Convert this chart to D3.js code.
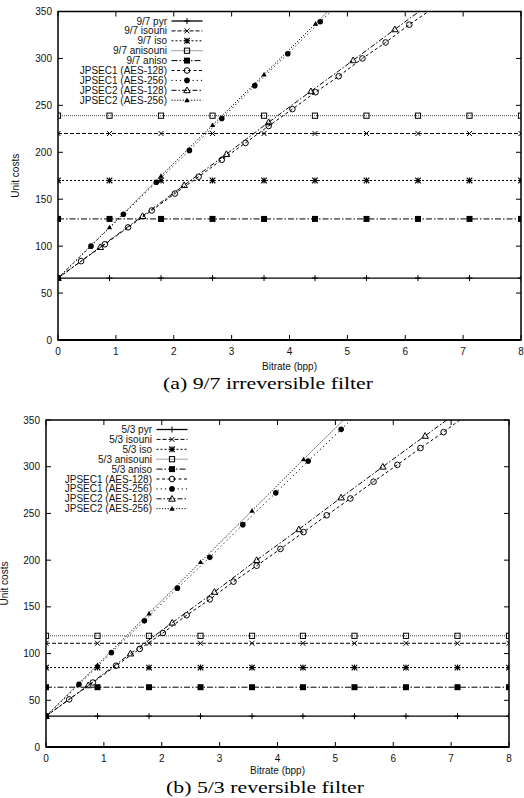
<!DOCTYPE html>
<html><head><meta charset="utf-8">
<script src="https://cdn.jsdelivr.net/npm/d3@7"></script>
<style>body{margin:0;background:#fff}svg{display:block}</style>
</head><body><svg id="c" width="524" height="798"></svg>
<script>
// ---------- data ----------
const bitrateTicks = [0,1,2,3,4,5,6,7,8];
const costTicks = [0,50,100,150,200,250,300,350];

const flatX  = [0,0.89,1.78,2.67,3.56,4.44,5.33,6.22,7.11,8];
const jp1x128 = [0,0.40,0.81,1.21,1.62,2.02,2.43,2.83,3.24,3.64,4.05,4.45,4.85,5.26,5.66,6.07,6.47,6.87,7.28];
const jp2x128 = [0,0.73,1.46,2.18,2.91,3.64,4.37,5.10,5.82,6.55,7.28];
const jp1x256 = [0,0.57,1.13,1.70,2.27,2.83,3.40,3.97,4.53,5.10,5.67];
const jp2x256 = [0,0.89,1.78,2.67,3.56,4.45,5.34];

const labels97 = ["9/7 pyr","9/7 isouni","9/7 iso","9/7 anisouni","9/7 aniso","JPSEC1 (AES-128)","JPSEC1 (AES-256)","JPSEC2 (AES-128)","JPSEC2 (AES-256)"];
const labels53 = ["5/3 pyr","5/3 isouni","5/3 iso","5/3 anisouni","5/3 aniso","JPSEC1 (AES-128)","JPSEC1 (AES-256)","JPSEC2 (AES-128)","JPSEC2 (AES-256)"];

// (a) 9/7 irreversible filter
const pyr97      = [66,66,66,66,66,66,66,66,66,66];
const isouni97   = [220,220,220,220,220,220,220,220,220,220];
const iso97      = [170,170,170,170,170,170,170,170,170,170];
const anisouni97 = [239,239,239,239,239,239,239,239,239,239];
const aniso97    = [129,129,129,129,129,129,129,129,129,129];
const jp1_128_97 = [66,84,102,120,138,156,174,192,210,228,246,264,281,300,317,336,353,371,389];
const jp1_256_97 = [66,100,134,168,202,236,271,305,339,373,407];
const jp2_128_97 = [66,99,132,165,198,232,265,298,331,364,397];
const jp2_256_97 = [66,120,175,229,283,337,392];

// (b) 5/3 reversible filter
const pyr53      = [33,33,33,33,33,33,33,33,33,33];
const isouni53   = [111,111,111,111,111,111,111,111,111,111];
const iso53      = [85,85,85,85,85,85,85,85,85,85];
const anisouni53 = [119,119,119,119,119,119,119,119,119,119];
const aniso53    = [64,64,64,64,64,64,64,64,64,64];
const jp1_128_53 = [33,51,69,87,105,122,141,158,177,194,212,230,248,266,284,302,320,337,356];
const jp1_256_53 = [33,67,101,135,170,203,238,272,306,340,374];
const jp2_128_53 = [33,66,100,133,166,200,233,267,300,333,366];
const jp2_256_53 = [33,88,143,198,253,308,362];

// ---------- styles ----------
const styles = [
  {dash:null,        marker:"plus",   width:1.3},
  {dash:"4,2",       marker:"cross",  width:1},
  {dash:"2,2",       marker:"star",   width:1},
  {dash:"1,1",       marker:"osq",    width:1, stroke:"#444"},
  {dash:"6,2,1.5,2", marker:"fsq",    width:1},
  {dash:"3,2.5",     marker:"ocirc",  width:1},
  {dash:"1.2,3",     marker:"fcirc",  width:1},
  {dash:"5,2,1.5,2", marker:"otri",   width:1},
  {dash:"1.2,1.6",   marker:"ftri",   width:1}
];

const charts = [
  {left:58, right:521, top:11.5, bottom:340, labels:labels97,
   xs:[flatX,flatX,flatX,flatX,flatX,jp1x128,jp1x256,jp2x128,jp2x256],
   ys:[pyr97,isouni97,iso97,anisouni97,aniso97,jp1_128_97,jp1_256_97,jp2_128_97,jp2_256_97],
   legX:167, legY:21, ylabX:15, xtickOff:15, xlabOff:30,
   caption:"(a)  9/7 irreversible filter", capX:268, capY:389, capW:210},
  {left:46, right:509, top:420, bottom:747, labels:labels53,
   xs:[flatX,flatX,flatX,flatX,flatX,jp1x128,jp1x256,jp2x128,jp2x256],
   ys:[pyr53,isouni53,iso53,anisouni53,aniso53,jp1_128_53,jp1_256_53,jp2_128_53,jp2_256_53],
   legX:152, legY:429.5, ylabX:4.5, xtickOff:14.5, xlabOff:27,
   caption:"(b)  5/3 reversible filter", capX:265, capY:793, capW:198}
];

const svg = d3.select("#c");
const FONT = "'Liberation Sans', Arial, Helvetica, sans-serif";

function drawMarker(g, type, x, y){
  if(type==="plus"){
    g.append("path").attr("d",`M${x-3},${y}H${x+3}M${x},${y-3}V${y+3}`).attr("stroke","#000").attr("stroke-width",1);
  } else if(type==="cross"){
    g.append("path").attr("d",`M${x-2.5},${y-2.5}L${x+2.5},${y+2.5}M${x-2.5},${y+2.5}L${x+2.5},${y-2.5}`).attr("stroke","#000").attr("stroke-width",1);
  } else if(type==="star"){
    g.append("path").attr("d",`M${x-2.8},${y-2.8}L${x+2.8},${y+2.8}M${x-2.8},${y+2.8}L${x+2.8},${y-2.8}M${x-3},${y}H${x+3}M${x},${y-3}V${y+3}`).attr("stroke","#000").attr("stroke-width",1.1);
  } else if(type==="osq"){
    g.append("rect").attr("x",x-2.6).attr("y",y-2.6).attr("width",5.2).attr("height",5.2).attr("fill","none").attr("stroke","#000").attr("stroke-width",1);
  } else if(type==="fsq"){
    g.append("rect").attr("x",x-3).attr("y",y-3).attr("width",6).attr("height",6).attr("fill","#000");
  } else if(type==="ocirc"){
    g.append("circle").attr("cx",x).attr("cy",y).attr("r",2.8).attr("fill","none").attr("stroke","#000").attr("stroke-width",1);
  } else if(type==="fcirc"){
    g.append("circle").attr("cx",x).attr("cy",y).attr("r",2.8).attr("fill","#000");
  } else if(type==="otri"){
    g.append("path").attr("d",`M${x},${y-3.3}L${x+3.3},${y+2.4}L${x-3.3},${y+2.4}Z`).attr("fill","none").attr("stroke","#000").attr("stroke-width",1);
  } else if(type==="ftri"){
    g.append("path").attr("d",`M${x},${y-2.6}L${x+2.6},${y+2}L${x-2.6},${y+2}Z`).attr("fill","#000");
  }
}

charts.forEach((c, ci) => {
  const x = d3.scaleLinear().domain([0,8]).range([c.left, c.right]);
  const y = d3.scaleLinear().domain([0,350]).range([c.bottom, c.top]);
  const g = svg.append("g");

  const clipId = "clip"+ci;
  svg.append("defs").append("clipPath").attr("id",clipId).append("rect")
    .attr("x",c.left).attr("y",c.top).attr("width",c.right-c.left).attr("height",c.bottom-c.top);

  g.selectAll(".yl").data(costTicks).enter().append("text")
    .attr("x", c.left-6).attr("y", d=>y(d)).attr("dy","0.35em")
    .attr("text-anchor","end").attr("font-family",FONT).attr("font-size",10).attr("fill","#111")
    .text(d=>d);
  g.selectAll(".xl").data(bitrateTicks).enter().append("text")
    .attr("x", d=>x(d)).attr("y", c.bottom+c.xtickOff)
    .attr("text-anchor","middle").attr("font-family",FONT).attr("font-size",10).attr("fill","#111")
    .text(d=>d);
  const tk = g.append("g").attr("stroke","#000").attr("stroke-width",1);
  costTicks.forEach(v=>{
    tk.append("line").attr("x1",c.left).attr("x2",c.left+5).attr("y1",y(v)).attr("y2",y(v));
    tk.append("line").attr("x1",c.right).attr("x2",c.right-5).attr("y1",y(v)).attr("y2",y(v));
  });
  bitrateTicks.forEach(v=>{
    tk.append("line").attr("x1",x(v)).attr("x2",x(v)).attr("y1",c.bottom).attr("y2",c.bottom-5);
    tk.append("line").attr("x1",x(v)).attr("x2",x(v)).attr("y1",c.top).attr("y2",c.top+5);
  });

  g.append("text").attr("transform",`translate(${c.ylabX},${(c.top+c.bottom)/2}) rotate(-90)`)
    .attr("dy","0.35em").attr("text-anchor","middle").attr("font-family",FONT).attr("font-size",10).attr("fill","#111")
    .text("Unit costs");
  g.append("text").attr("x",(c.left+c.right)/2).attr("y",c.bottom+c.xlabOff)
    .attr("text-anchor","middle").attr("font-family",FONT).attr("font-size",10).attr("fill","#111")
    .text("Bitrate (bpp)");
  g.append("text").attr("x",c.capX).attr("y",c.capY)
    .attr("text-anchor","middle").attr("font-family","'Liberation Serif','Times New Roman',serif").attr("font-size",17.5)
    .attr("textLength",c.capW).attr("lengthAdjust","spacingAndGlyphs").attr("fill","#000")
    .text(c.caption);

  const pg = g.append("g").attr("clip-path",`url(#${clipId})`);
  const line = d3.line().x(d=>x(d[0])).y(d=>y(d[1]));
  c.ys.forEach((vals, si) => {
    const st = styles[si];
    const pts = c.xs[si].map((xv,i)=>[xv, vals[i]]);
    pg.append("path").attr("d", line(pts)).attr("fill","none")
      .attr("stroke", st.stroke||"#000").attr("stroke-width", st.width)
      .attr("stroke-dasharray", st.dash);
  });
  c.ys.forEach((vals, si) => {
    const st = styles[si];
    c.xs[si].forEach((xv,i)=>{
      if(vals[i] <= 352) drawMarker(pg, st.marker, x(xv), y(vals[i]));
    });
  });

  g.append("rect").attr("x",c.left).attr("y",c.top).attr("width",c.right-c.left).attr("height",c.bottom-c.top)
    .attr("fill","none").attr("stroke","#000").attr("stroke-width",1.5);
  g.append("line").attr("x1",c.left).attr("x2",c.right).attr("y1",c.bottom).attr("y2",c.bottom)
    .attr("stroke","#000").attr("stroke-width",2);

  const lg = g.append("g");
  c.labels.forEach((lab, i) => {
    const st = styles[i];
    const ly = c.legY + i*9.9;
    lg.append("text").attr("x",c.legX).attr("y",ly).attr("dy","0.35em")
      .attr("text-anchor","end").attr("font-family",FONT).attr("font-size",10).attr("fill","#111").text(lab);
    lg.append("line").attr("x1",c.legX+4.5).attr("x2",c.legX+35.5).attr("y1",ly).attr("y2",ly)
      .attr("stroke",st.stroke||"#000").attr("stroke-width",st.width).attr("stroke-dasharray",st.dash);
    drawMarker(lg, st.marker, c.legX+20, ly);
  });
});
</script></body></html>
